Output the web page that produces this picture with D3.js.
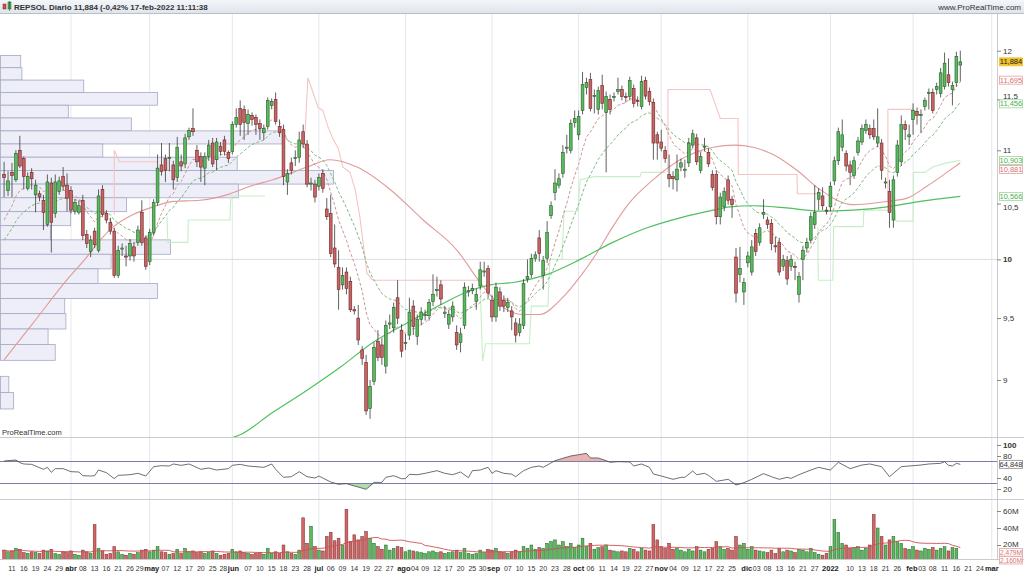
<!DOCTYPE html>
<html><head><meta charset="utf-8">
<script src="https://cdn.jsdelivr.net/npm/d3@7"></script>
<style>
body{margin:0;background:#fff;}
svg{display:block;font-family:"Liberation Sans",Arial,sans-serif;}
</style></head>
<body><svg id="c" width="1024" height="576"></svg>
<script>
// ---------------- DATA ----------------
const holidays = ["2021-04-02","2021-04-05","2021-12-24","2021-12-31"];
const firstDay = "2021-03-09", lastAxisDay = "2022-03-04";
const monthNames = ["ene","feb","mar","abr","may","jun","jul","ago","sep","oct","nov","dic"];

const open = [10.77,10.62,10.79,10.72,11.00,10.92,10.64,10.79,10.58,10.59,10.53,10.31,10.69,10.41,10.61,10.75,10.67,10.62,10.43,10.42,
10.53,10.22,10.07,10.25,10.08,10.63,10.41,10.33,10.25,9.86,10.09,10.03,10.03,10.11,10.15,10.42,10.19,9.98,10.24,10.51,
10.86,10.92,10.92,10.86,10.74,10.89,10.87,11.13,11.21,11.00,10.94,10.83,10.94,11.07,10.91,11.04,11.10,10.98,10.99,11.25,
11.41,11.40,11.26,11.34,11.32,11.26,11.17,11.23,11.44,11.50,11.23,11.20,10.70,10.88,10.92,10.93,11.18,11.06,10.68,10.68,
10.66,10.78,10.45,10.41,10.10,9.93,9.78,9.89,9.81,9.57,9.50,9.24,9.14,8.78,8.99,9.31,9.28,9.11,9.45,9.42,
9.67,9.40,9.29,9.36,9.60,9.35,9.49,9.52,9.52,9.64,9.73,9.78,9.54,9.45,9.51,9.38,9.30,9.44,9.72,9.73,
9.64,9.77,9.89,9.92,9.65,9.51,9.72,9.65,9.59,9.56,9.46,9.38,9.44,9.83,9.87,10.01,10.19,9.86,10.01,10.39,
10.60,10.67,10.78,11.02,11.00,11.27,11.15,11.39,11.62,11.70,11.53,11.40,11.64,11.37,11.50,11.52,11.58,11.60,11.53,11.53,
11.61,11.49,11.43,11.69,11.58,11.47,11.15,11.08,11.00,10.77,10.75,10.72,10.84,10.81,10.88,11.05,11.12,10.81,11.03,10.98,
10.77,10.77,10.38,10.47,10.72,10.54,10.02,9.87,9.72,9.97,9.89,10.23,10.15,10.40,10.35,10.32,10.12,10.15,9.94,9.99,
9.94,9.94,9.70,10.00,10.10,10.17,10.31,10.54,10.57,10.44,10.47,10.71,10.90,11.03,10.97,10.86,10.76,10.98,11.08,11.19,
11.21,11.21,11.07,11.07,10.69,10.61,10.35,10.79,10.89,11.25,11.13,11.30,11.38,11.34,11.43,11.56,11.57,11.60,11.56,11.63,
11.75,11.60,11.67,11.85];
const high = [10.89,10.80,10.88,11.00,11.14,10.94,10.79,10.83,10.72,10.62,10.58,10.77,10.74,10.77,10.75,10.84,10.78,10.66,10.54,10.53,
10.58,10.26,10.21,10.28,10.63,10.67,10.44,10.37,10.28,10.12,10.14,10.12,10.18,10.15,10.30,10.53,10.21,10.27,10.54,10.96,
11.07,10.96,11.07,10.90,11.13,10.96,11.16,11.22,11.41,11.05,10.98,10.98,11.10,11.12,11.12,11.08,11.14,11.00,11.28,11.41,
11.49,11.44,11.40,11.37,11.35,11.30,11.25,11.52,11.51,11.57,11.30,11.25,10.82,10.93,11.00,11.18,11.25,11.10,10.74,10.72,
10.78,10.82,10.55,10.58,10.31,10.08,9.93,9.93,9.85,9.60,9.61,9.27,9.20,9.00,9.30,9.40,9.33,9.48,9.53,9.63,
9.82,9.45,9.37,9.67,9.65,9.53,9.59,9.57,9.66,9.87,9.85,9.82,9.60,9.57,9.64,9.44,9.42,9.80,9.77,9.79,
9.75,9.98,9.98,9.95,9.69,9.80,9.76,9.69,9.67,9.60,9.50,9.50,9.83,10.00,10.05,10.07,10.26,10.03,10.34,10.52,
10.82,10.78,11.05,11.15,11.30,11.39,11.39,11.78,11.72,11.77,11.60,11.63,11.75,11.58,11.55,11.57,11.72,11.64,11.57,11.73,
11.65,11.53,11.74,11.73,11.62,11.51,11.18,11.20,11.04,10.96,10.80,10.96,10.92,10.91,11.12,11.20,11.16,10.98,11.12,11.02,
10.81,10.81,10.60,10.65,10.76,10.57,10.10,10.11,9.84,10.07,10.17,10.27,10.32,10.54,10.38,10.36,10.20,10.19,10.04,10.03,
10.04,9.98,9.89,10.12,10.19,10.42,10.67,10.64,10.65,10.47,10.70,10.94,11.22,11.30,11.00,10.90,10.94,11.13,11.25,11.30,
11.25,11.30,11.41,11.11,10.74,10.72,10.76,11.10,11.34,11.29,11.25,11.46,11.42,11.40,11.52,11.61,11.61,11.67,11.82,11.98,
11.92,11.68,11.99,12.00];
const low = [10.56,10.57,10.56,10.70,10.83,10.63,10.62,10.63,10.42,10.52,10.26,10.29,10.06,10.37,10.58,10.62,10.43,10.41,10.40,10.40,
10.17,10.10,10.02,10.10,10.06,10.38,10.32,10.22,9.84,9.84,10.03,9.94,9.99,9.98,10.12,10.12,9.91,9.95,10.21,10.48,
10.76,10.70,10.80,10.63,10.70,10.80,10.83,11.10,11.14,10.84,10.70,10.67,10.90,10.84,10.81,10.95,10.95,10.88,10.96,11.22,
11.14,11.10,11.15,11.24,11.15,11.10,11.10,11.20,11.40,11.25,11.13,10.67,10.58,10.77,10.85,10.88,11.02,10.65,10.62,10.51,
10.62,10.60,10.35,10.02,9.93,9.57,9.74,9.70,9.55,9.53,9.28,9.12,8.73,8.70,8.96,9.15,9.12,9.05,9.41,9.38,
9.45,9.18,9.24,9.32,9.36,9.28,9.44,9.48,9.48,9.60,9.68,9.61,9.50,9.41,9.47,9.24,9.22,9.41,9.68,9.70,
9.57,9.74,9.85,9.67,9.47,9.47,9.56,9.55,9.55,9.40,9.30,9.35,9.41,9.80,9.84,9.98,9.98,9.74,9.97,10.36,
10.53,10.64,10.74,10.97,10.97,11.22,11.10,11.35,11.55,11.38,11.36,11.35,11.40,10.79,11.35,11.48,11.55,11.49,11.47,11.49,
11.42,11.43,11.40,11.50,11.44,10.91,10.91,10.99,10.88,10.65,10.63,10.61,10.80,10.74,10.84,11.02,10.86,10.78,10.99,10.84,
10.62,10.31,10.31,10.43,10.49,10.37,9.63,9.80,9.61,9.93,9.86,10.03,10.12,10.36,10.27,10.08,10.06,9.86,9.90,9.78,
9.90,9.82,9.63,9.82,10.06,10.14,10.27,10.44,10.44,10.40,10.43,10.67,10.86,10.99,10.80,10.67,10.73,10.95,11.05,11.16,
11.11,11.10,11.03,10.72,10.64,10.28,10.28,10.75,10.85,11.10,11.05,11.15,11.25,11.17,11.39,11.40,11.36,11.55,11.52,11.60,
11.63,11.44,11.63,11.68];
const close = [10.74,10.71,10.76,10.97,10.85,10.75,10.75,10.73,10.67,10.56,10.42,10.70,10.33,10.70,10.71,10.66,10.55,10.44,10.51,10.48,
10.21,10.14,10.17,10.13,10.57,10.40,10.35,10.25,9.86,10.08,10.10,10.02,10.14,10.03,10.26,10.15,9.94,10.24,10.51,10.83,
10.80,10.81,10.93,10.72,11.03,10.85,11.12,11.19,11.18,10.89,10.84,10.94,11.05,10.87,11.08,10.99,10.99,10.92,11.25,11.32,
11.25,11.27,11.35,11.30,11.25,11.21,11.21,11.49,11.48,11.28,11.17,10.75,10.78,10.81,10.93,11.10,11.06,10.68,10.69,10.56,
10.74,10.64,10.38,10.05,9.96,9.74,9.86,9.75,9.57,9.56,9.32,9.17,8.76,8.95,9.26,9.18,9.18,9.44,9.46,9.59,
9.50,9.23,9.30,9.55,9.43,9.49,9.55,9.53,9.63,9.70,9.74,9.66,9.55,9.53,9.60,9.28,9.37,9.76,9.73,9.75,
9.70,9.91,9.90,9.71,9.51,9.76,9.60,9.60,9.63,9.51,9.36,9.45,9.79,9.85,10.01,10.04,10.05,9.99,10.24,10.48,
10.69,10.73,10.98,11.03,11.26,11.31,11.33,11.65,11.67,11.41,11.54,11.59,11.46,11.53,11.40,11.53,11.60,11.53,11.52,11.69,
11.46,11.48,11.68,11.54,11.48,11.07,11.07,11.02,10.92,10.73,10.73,10.82,10.88,10.82,11.07,11.16,10.89,10.94,11.04,10.87,
10.65,10.38,10.56,10.61,10.53,10.49,9.71,9.92,9.80,10.03,10.11,10.07,10.28,10.42,10.31,10.14,10.11,9.89,10.00,9.83,
10.00,9.93,9.85,10.08,10.15,10.38,10.42,10.60,10.48,10.43,10.66,10.90,11.18,11.15,10.85,10.79,10.90,11.09,11.21,11.25,
11.15,11.13,11.13,10.81,10.70,10.42,10.72,11.05,11.25,11.20,11.15,11.39,11.34,11.35,11.49,11.57,11.39,11.63,11.77,11.87,
11.67,11.64,11.94,11.884];
// volume, millions of shares
const volume = [14,12,13,16,15,11,10,12,11,10,14,13,15,10,9,12,11,13,9,8,
14,12,10,44,16,13,9,10,18,12,9,8,10,9,11,14,15,12,14,18,
12,11,9,10,15,10,16,12,13,11,12,10,11,13,10,8,9,10,15,12,
13,11,10,9,10,11,9,16,10,12,10,20,12,10,9,14,52,22,42,18,
14,13,30,35,25,28,20,62,24,32,26,30,36,28,22,18,15,20,14,16,
18,17,12,14,13,12,11,10,12,13,11,12,10,11,12,14,11,16,10,9,
10,14,11,15,14,16,12,11,10,12,14,12,18,16,20,15,17,16,22,24,
26,20,24,18,22,17,20,28,18,22,15,17,18,20,14,13,12,13,12,16,
15,12,16,14,13,44,26,18,16,22,15,16,14,12,15,13,18,14,12,15,
16,24,18,15,16,14,30,20,22,15,18,14,13,12,11,14,10,16,12,14,
13,11,15,14,12,16,11,9,8,10,18,50,35,22,20,16,17,18,14,16,
20,56,40,30,20,26,30,24,22,16,15,18,14,13,16,15,17,14,16,18,
13,17,16,2.16];
const volumeLabels = ["2,479M", "2,160M"];

// moving averages: [bar, price]
const ma50Pts = [[0,9.16],[7.4,9.46],[15.9,9.82],[21,10.02],[24.4,10.17],[27.8,10.29],[32.8,10.40],[37.9,10.47],[43,10.52],[49.8,10.53],[56.6,10.58],[62.5,10.66],[68.3,10.72],[77,10.84],[82.8,10.91],[89.7,10.84],[98.1,10.63],[106.5,10.35],[115.1,10.08],[121,9.80],[126,9.61],[131.9,9.53],[136.2,9.53],[141.3,9.65],[146.4,9.85],[150.7,10.06],[154.7,10.29],[159,10.51],[164.9,10.72],[171.8,10.91],[180.2,11.03],[185.7,11.05],[190.3,11.03],[195.4,10.96],[201.5,10.81],[207.3,10.63],[215.7,10.49],[224.4,10.52],[229.5,10.55],[234.5,10.66],[239.6,10.79],[243,10.881]];
const ma200Pts = [[56,8.54],[60,8.58],[68.3,8.75],[77,8.92],[85.4,9.10],[93.7,9.30],[102.4,9.46],[110.8,9.61],[119.2,9.74],[123.5,9.78],[129.3,9.80],[138,9.87],[146.4,10.00],[154.7,10.15],[163.4,10.28],[171.8,10.37],[180.2,10.44],[184.5,10.47],[190.3,10.48],[198.9,10.46],[207.3,10.43],[215.7,10.44],[224.4,10.47],[232.8,10.52],[243,10.566]];
const emaFastStart = 10.35, emaSlowStart = 10.17, emaFastLen = 10, emaSlowLen = 20;

const pinkLines = [
 [[28,10.40],[28,11.00],[29.3,10.89],[39,10.89]],
 [[76.5,11.18],[77.2,11.72],[78.5,11.57],[79.8,11.42],[81,11.39],[82.3,11.23],[83.6,11.11],[84.9,11.02],[86.1,10.84],[87.9,10.79],[89.2,10.63],[90.4,10.38],[92.2,9.88],[93.7,9.82],[121,9.82]],
 [[168.7,10.79],[168.7,11.60],[179.4,11.60],[182,11.31],[186.5,11.31],[186.6,10.77],[201.5,10.77],[201.6,10.59],[207.5,10.59]],
 [[224.6,10.53],[224.6,11.40],[231.1,11.40]]
];
const lightGreenLines = [
 [[41.4,10.38],[41.6,10.15],[46.7,10.15],[46.8,10.35],[57.4,10.35],[57.6,10.57],[66.3,10.57]],
 [[121,9.77],[121.6,9.15],[122.4,9.29],[133.5,9.29],[134,9.60],[138.2,9.60],[138.7,10.00],[141.8,10.00],[142.3,10.43],[145.8,10.43],[146.4,10.72],[150,10.75],[161.6,10.75],[162,10.79],[168,10.79]],
 [[206.8,10.29],[206.9,9.82],[210.6,9.82],[210.8,10.29],[218.3,10.29],[218.5,10.44],[226.4,10.44],[226.6,10.34],[231,10.34],[231.1,10.79],[234,10.79],[236,10.84],[239.5,10.88],[243,10.903]]
];

// RSI
const rsiBars = [0,3,4,5,7,10,11,12,13,15,17,19,20,22,23,24,26,28,29,32,34,36,38,40,42,43,45,47,50,52,54,57,58,60,62,66,68,69,71,73,75,77,79,80,83,85,87,89,90,92,94,96,97,99,101,102,103,105,107,110,112,114,116,118,119,121,123,124,125,127,129,130,132,134,136,137,140,142,144,146,148,149,151,153,154,156,159,160,162,164,165,167,170,172,173,175,176,178,179,181,184,185,186,188,190,193,195,197,199,200,202,205,207,210,212,215,218,220,223,225,228,230,233,235,238,239,240,241,242,243];
const rsiValues = [70.9,72.7,67.9,65.5,64.8,55.8,59.4,50.3,57,57,51.5,50.9,44.2,43.6,44.2,54.5,49.7,38.8,44.8,46,48.5,43.6,60.6,62.4,61.8,65.5,63,65.5,55.8,58.2,54.5,57,63,64.8,61.8,59.4,65.5,55.8,41.2,42.4,51.5,42.4,40,43.6,32.7,28.5,29.7,25.5,23.6,19.4,32.1,32.1,41.2,44.2,38.8,38.8,46.7,46,48.5,53.3,48.5,46,50.9,40.6,53.3,54.5,59.4,48.5,53.3,48.5,47,42.4,53.3,59.4,61.8,59.4,71.5,75.8,80,82.4,84.8,76.4,76.4,71.5,68.5,69.7,69.1,61.8,65.5,59.4,47.3,43.6,37.6,41.2,41.2,52.7,46,48.5,44.8,33.9,37.6,32.7,27.3,31.5,37.6,47.9,42.4,37.6,41.2,39.4,46,54.5,59.4,54.5,68.5,57,63.6,65.5,60.6,42.4,60.6,61.8,63.6,65.5,66.7,69.7,63,61.8,66.7,64.848];

// volume profile (price bins from the top, millions of shares)
const profileTop = 11.95, profileStep = 0.127;
const profileVol = [17,18,70,132,57,110,237,86,199,280,200,106,59,42,143,93,82,132,54,55,40,46,0,7,11,0];

// right-hand value labels
const lastLabels = [
 {v:11.884, text:"11,884", type:"price"},
 {v:11.695, text:"11,695", type:"red"},
 {v:11.456, text:"11,456", type:"green"},
 {v:10.903, text:"10,903", type:"green"},
 {v:10.881, text:"10,881", type:"red"},
 {v:10.566, text:"10,566", type:"green"}
];
const priceTicks = [9, 9.5, 10, 10.5, 11, 11.5, 12];
const rsiTicks = [20, 40, 80, 100];
const volTicks = [20, 40, 60];

// ---------------- LAYOUT ----------------
const W = 1024, H = 576, XR = 997;
const PT = 14, PB = 437, RT = 438, RB = 499, VT = 500, VB = 559;
const svg = d3.select("#c");
const N = close.length;

// trading-day calendar
const dates = [];
{
  const d = new Date(firstDay + "T00:00:00Z"), end = new Date(lastAxisDay + "T00:00:00Z");
  while (d <= end) {
    const s = d.toISOString().slice(0, 10), wd = d.getUTCDay();
    if (wd !== 0 && wd !== 6 && !holidays.includes(s)) dates.push(s);
    d.setUTCDate(d.getUTCDate() + 1);
  }
}

const x = d3.scaleLinear().domain([0, N - 1]).range([4.1, 4.1 + (N - 1) * 3.935]);
const y = d3.scaleLog().domain([9, 12]).range([380, 50.7]);
const yR = d3.scaleLinear().domain([20, 100]).range([489, 445]);
const yV = d3.scaleLinear().domain([0, 60]).range([562, 511]);

// clip paths
const defs = svg.append("defs");
[["cp", PT, PB], ["cr", RT, RB], ["cv", VT, VB]].forEach(([id, t, b]) => {
  defs.append("clipPath").attr("id", id).append("rect").attr("x", 0).attr("y", t).attr("width", XR).attr("height", b - t);
});
const hg = defs.append("linearGradient").attr("id", "hg").attr("x1", 0).attr("y1", 0).attr("x2", 0).attr("y2", 1);
hg.append("stop").attr("offset", 0).attr("stop-color", "#f4f6f9");
hg.append("stop").attr("offset", 1).attr("stop-color", "#dfe5ec");

svg.append("rect").attr("width", W).attr("height", H).attr("fill", "#fff");

// header
svg.append("rect").attr("x", 0).attr("y", 0).attr("width", W).attr("height", 13).attr("fill", "url(#hg)");
svg.append("line").attr("x1", 0).attr("x2", W).attr("y1", 13.5).attr("y2", 13.5).attr("stroke", "#b8c0c8");
svg.append("rect").attr("x", 3).attr("y", 4).attr("width", 3).attr("height", 5).attr("fill", "#d05050").attr("stroke", "#802020").attr("stroke-width", 0.5);
svg.append("rect").attr("x", 8).attr("y", 2).attr("width", 3).attr("height", 7).attr("fill", "#50b050").attr("stroke", "#206020").attr("stroke-width", 0.5);
svg.append("line").attr("x1", 9.5).attr("x2", 9.5).attr("y1", 1).attr("y2", 11).attr("stroke", "#206020").attr("stroke-width", 0.6);
svg.append("text").attr("x", 14).attr("y", 9.5).attr("font-size", 8).attr("font-weight", "bold").attr("fill", "#333")
  .text("REPSOL Diario 11,884 (-0,42% 17-feb-2022 11:11:38");
svg.append("text").attr("x", 1021).attr("y", 9.5).attr("font-size", 8).attr("fill", "#333").attr("text-anchor", "end")
  .text("www.ProRealTime.com");

// month grid lines
const monthStarts = [];
dates.forEach((s, i) => { if (i > 0 && s.slice(5, 7) !== dates[i - 1].slice(5, 7)) monthStarts.push(i); });
svg.append("g").selectAll("line").data(monthStarts.filter(i => x(i) < XR)).join("line")
  .attr("x1", i => x(i)).attr("x2", i => x(i)).attr("y1", PT).attr("y2", VB)
  .attr("stroke", "#e4e8ec").attr("stroke-width", 1);

// horizontal grid at 10
svg.append("line").attr("x1", 0).attr("x2", XR).attr("y1", y(10)).attr("y2", y(10)).attr("stroke", "#dcdcdc");

// pane separators
[PB + 0.5, RB + 0.5, VB + 0.5].forEach(v => svg.append("line").attr("x1", 0).attr("x2", W).attr("y1", v).attr("y2", v).attr("stroke", "#c8ccd0"));
svg.append("line").attr("x1", XR + 0.5).attr("x2", XR + 0.5).attr("y1", PT).attr("y2", VB).attr("stroke", "#c8ccd0");

// ---------------- PRICE PANE ----------------
const gp = svg.append("g").attr("clip-path", "url(#cp)");

// volume profile
const profX = d3.scaleLinear().domain([0, 280]).range([0, 333]);
gp.append("g").selectAll("rect").data(profileVol.map((v, k) => ({v, k})).filter(d => d.v > 0)).join("rect")
  .attr("x", 0.5)
  .attr("y", d => y(profileTop - d.k * profileStep))
  .attr("width", d => profX(d.v))
  .attr("height", d => y(profileTop - (d.k + 1) * profileStep) - y(profileTop - d.k * profileStep))
  .attr("fill", "#eeeef8").attr("stroke", "#a4a8c4").attr("stroke-width", 0.8);

const lineP = d3.line().x(d => x(d[0])).y(d => y(d[1]));
// step lines
pinkLines.forEach(seg => gp.append("path").attr("d", lineP(seg)).attr("fill", "none").attr("stroke", "#f6c4c4").attr("stroke-width", 1.1));
lightGreenLines.forEach(seg => gp.append("path").attr("d", lineP(seg)).attr("fill", "none").attr("stroke", "#c6eec6").attr("stroke-width", 1.1));

// moving averages
const smooth = d3.line().x(d => x(d[0])).y(d => y(d[1])).curve(d3.curveMonotoneX);
gp.append("path").attr("d", smooth(ma50Pts)).attr("fill", "none").attr("stroke", "#e29a9a").attr("stroke-width", 1.1);
gp.append("path").attr("d", smooth(ma200Pts)).attr("fill", "none").attr("stroke", "#4fc060").attr("stroke-width", 1.2);

// EMAs from closes
function ema(start, len) {
  const a = 2 / (len + 1), out = [[0, start]];
  let e = start;
  for (let i = 1; i < N; i++) { e = e + a * (close[i] - e); out.push([i, e]); }
  return out;
}
gp.append("path").attr("d", lineP(ema(emaSlowStart, emaSlowLen))).attr("fill", "none").attr("stroke", "#7dba7d").attr("stroke-width", 1).attr("stroke-dasharray", "3,2");
gp.append("path").attr("d", lineP(ema(emaFastStart, emaFastLen))).attr("fill", "none").attr("stroke", "#cf9595").attr("stroke-width", 1).attr("stroke-dasharray", "3,2");

// candles
const idx = d3.range(N);
const up = i => close[i] >= open[i];
gp.append("g").selectAll("line").data(idx).join("line")
  .attr("x1", i => x(i)).attr("x2", i => x(i)).attr("y1", i => y(high[i])).attr("y2", i => y(low[i]))
  .attr("stroke", "#3a3a3a").attr("stroke-width", 0.8);
gp.append("g").selectAll("rect").data(idx).join("rect")
  .attr("x", i => x(i) - 1.4).attr("width", 2.8)
  .attr("y", i => y(Math.max(open[i], close[i])))
  .attr("height", i => Math.max(0.8, Math.abs(y(open[i]) - y(close[i]))))
  .attr("fill", i => up(i) ? "#5cb85c" : "#c86464")
  .attr("stroke", i => up(i) ? "#24602a" : "#6e2424").attr("stroke-width", 0.6);

svg.append("text").attr("x", 2).attr("y", 435).attr("font-size", 7.5).attr("fill", "#333").text("ProRealTime.com");

// ---------------- RSI PANE ----------------
const gr = svg.append("g").attr("clip-path", "url(#cr)");
const rsiPts = rsiBars.map((b, k) => [b, rsiValues[k]]);
const areaHi = d3.area().x(d => x(d[0])).y0(yR(70)).y1(d => yR(Math.max(70, d[1])));
const areaLo = d3.area().x(d => x(d[0])).y0(yR(30)).y1(d => yR(Math.min(30, d[1])));
gr.append("path").attr("d", areaHi(rsiPts)).attr("fill", "#e6a6a6").attr("opacity", 0.85);
gr.append("path").attr("d", areaLo(rsiPts)).attr("fill", "#a2d6a2").attr("opacity", 0.85);
[70, 30].forEach(v => gr.append("line").attr("x1", 0).attr("x2", XR).attr("y1", yR(v)).attr("y2", yR(v)).attr("stroke", "#7c7cab").attr("stroke-width", 1.1));
gr.append("path").attr("d", d3.line().x(d => x(d[0])).y(d => yR(d[1]))(rsiPts)).attr("fill", "none").attr("stroke", "#4a4a4a").attr("stroke-width", 0.8);

// ---------------- VOLUME PANE ----------------
const gv = svg.append("g").attr("clip-path", "url(#cv)");
gv.append("g").selectAll("rect").data(idx).join("rect")
  .attr("x", i => x(i) - 1.4).attr("width", 2.8)
  .attr("y", i => yV(volume[i])).attr("height", i => yV(0) - yV(volume[i]))
  .attr("fill", i => up(i) ? "#5cb85c" : "#d06666")
  .attr("stroke", i => up(i) ? "#24602a" : "#7a2a2a").attr("stroke-width", 0.5);
const volMA = idx.map(i => { const s = volume.slice(Math.max(0, i - 19), i + 1); return [i, d3.mean(s)]; });
gv.append("path").attr("d", d3.line().x(d => x(d[0])).y(d => yV(d[1]))(volMA)).attr("fill", "none").attr("stroke", "#d05050").attr("stroke-width", 0.9);

// ---------------- AXES ----------------
const fmt = v => String(v).replace(".", ",");
const axP = svg.append("g").attr("transform", `translate(${XR},0)`)
  .call(d3.axisRight(y).tickValues(priceTicks).tickSize(4).tickFormat(fmt));
const axR = svg.append("g").attr("transform", `translate(${XR},0)`)
  .call(d3.axisRight(yR).tickValues(rsiTicks).tickSize(4).tickFormat(d3.format("d")));
const axV = svg.append("g").attr("transform", `translate(${XR},0)`)
  .call(d3.axisRight(yV).tickValues(volTicks).tickSize(4).tickFormat(d => d + "M"));
[axP, axR, axV].forEach(a => {
  a.select(".domain").remove();
  a.selectAll("line").attr("stroke", "#888");
  a.selectAll("text").attr("font-size", 8).attr("fill", "#333").attr("font-family", "Liberation Sans, Arial, sans-serif").attr("dx", -1);
});
axP.selectAll("text").filter(d => d === 10).attr("font-weight", "bold");
axP.selectAll("text").filter(d => d === 11.5).attr("dy", "-0.1em");
axP.selectAll("text").filter(d => d === 10.5).attr("dy", "0.75em");
axR.selectAll("text").filter(d => d === 100).attr("font-weight", "bold");
axV.selectAll("text").filter(d => d === 20).attr("dy", "0.15em");

// value labels (price pane)
const colors = {price: ["#f3c12c", "#f3c12c", "#222"], red: ["#fff", "#e4a0a0", "#d87070"], green: ["#fff", "#98d898", "#4eb04e"]};
function valueBox(cy, text, c, size, h) {
  const hh = h || 8;
  svg.append("rect").attr("x", 999.5).attr("y", cy - hh / 2).attr("width", 23).attr("height", hh).attr("fill", c[0]).attr("stroke", c[1]).attr("stroke-width", 0.8);
  svg.append("text").attr("x", 1011).attr("y", cy + 2.6).attr("text-anchor", "middle").attr("font-size", size || 7.5).attr("fill", c[2]).text(text);
}
const placed = [];
lastLabels.forEach(l => {
  let cy = y(l.v);
  placed.forEach(p => { if (Math.abs(cy - p) < 9) cy = p + 9; });
  placed.push(cy);
  valueBox(cy, l.text, colors[l.type]);
});
// RSI last value
valueBox(yR(rsiValues[rsiValues.length - 1]), "64,848", ["#fff", "#888", "#333"]);
// volume last values
valueBox(552.4, volumeLabels[0], ["#fff", "#e4a0a0", "#d87070"], 6.6, 7.6);
valueBox(560.2, volumeLabels[1], ["#fff", "#e4a0a0", "#d87070"], 6.6, 7.6);

// time axis labels
const gt = svg.append("g");
const monthLabels = monthStarts.map(i => {
  const m = +dates[i].slice(5, 7) - 1;
  return {i, text: m === 0 ? dates[i].slice(0, 4) : monthNames[m], wide: m === 0};
});
const tl = [];
monthLabels.filter(d => x(d.i) < 1010).forEach(d => {
  const t = gt.append("text").attr("x", x(d.i)).attr("y", 570.5).attr("text-anchor", "middle").attr("font-size", 7.5)
    .attr("font-weight", "bold").attr("fill", "#222").text(d.text);
  tl.push({t, cx: x(d.i), w: t.node().getComputedTextLength()});
});
dates.forEach((s, i) => {
  if (i % 3 !== 2) return;
  if (x(i) > 985) return;
  const near = monthLabels.some(m => Math.abs(m.i - i) <= (m.wide ? 2 : 1));
  if (near) return;
  const t = gt.append("text").attr("x", x(i)).attr("y", 570.5).attr("text-anchor", "middle").attr("font-size", 7)
    .attr("fill", "#333").text(s.slice(8, 10));
  tl.push({t, cx: x(i), w: t.node().getComputedTextLength()});
});
// relax label positions so neighbours do not overlap
tl.sort((a, b) => a.cx - b.cx);
for (let it = 0; it < 40; it++) {
  for (let k = 0; k + 1 < tl.length; k++) {
    const a = tl[k], b = tl[k + 1];
    const ov = (a.cx + a.w / 2 + 0.6) - (b.cx - b.w / 2);
    if (ov > 0) { a.cx -= ov / 2; b.cx += ov / 2; }
  }
}
tl.forEach(d => d.t.attr("x", d.cx));
</script></body></html>
